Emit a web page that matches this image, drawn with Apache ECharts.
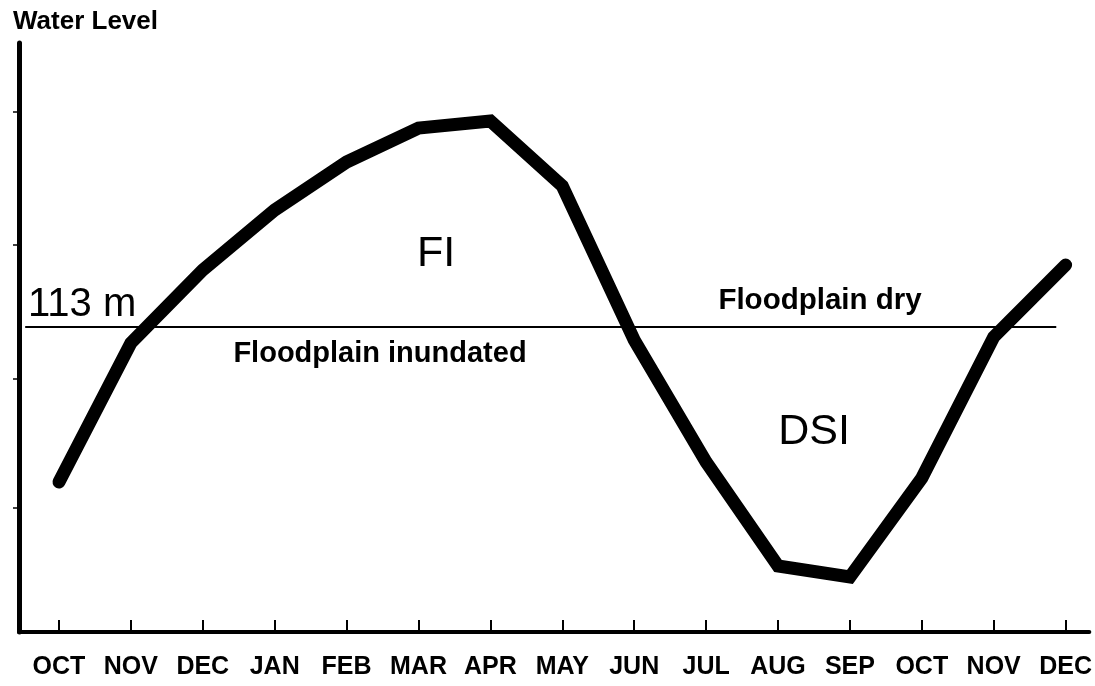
<!DOCTYPE html>
<html>
<head>
<meta charset="utf-8">
<style>
  html, body { margin: 0; padding: 0; background: #fff; }
  #chart { width: 1095px; height: 686px; }
</style>
<script src="https://cdn.jsdelivr.net/npm/echarts@6/dist/echarts.min.js"></script>
</head>
<body>
<div id="chart"></div>
<script>
// months along the bottom, index 0..14
const months = ["OCT", "NOV", "DEC", "JAN", "FEB", "MAR", "APR", "MAY",
  "JUN", "JUL", "AUG", "SEP", "OCT", "NOV", "DEC"];

// water level (m)
const waterLevel = [109.9, 112.68, 114.14, 115.34, 116.3, 116.98, 117.12, 115.82,
  112.74, 110.3, 108.22, 108.0, 109.98, 112.8, 114.24];

// unlabeled y ticks
const yTicks = [109.38, 111.96, 114.64, 117.3];

const floodLevel = 113;
const font = "'Liberation Sans', Arial, sans-serif";

const chart = echarts.init(document.getElementById("chart"));

const option = {
  animation: false,
  backgroundColor: "#fff",
  grid: { left: 19, right: 5, top: 43, bottom: 54 },
  xAxis: {
    type: "value",
    min: -0.556,
    max: 14.33,
    splitLine: { show: false },
    axisLine: { show: true, onZero: false, lineStyle: { color: "#000", width: 4 } },
    axisTick: {
      show: true,
      inside: true,
      length: 12,
      lineStyle: { color: "#000", width: 2 },
      customValues: months.map((m, i) => i),
    },
    axisLabel: {
      customValues: months.map((m, i) => i),
      formatter: (v) => months[Math.round(v)],
      color: "#000",
      fontFamily: font,
      fontWeight: "bold",
      fontSize: 25,
      margin: 23,
    },
  },
  yAxis: {
    type: "value",
    min: 106.9,
    max: 118.68,
    splitLine: { show: false },
    axisLine: { show: true, onZero: false, lineStyle: { color: "#000", width: 5 } },
    axisTick: {
      show: true,
      length: 6,
      lineStyle: { color: "#000", width: 1.5 },
      customValues: yTicks,
    },
    axisLabel: { show: false },
  },
  series: [
    {
      type: "line",
      data: waterLevel.map((v, i) => [i, v]),
      showSymbol: false,
      lineStyle: { color: "#000", width: 13, cap: "round", join: "miter" },
      markLine: {
        silent: true,
        symbol: "none",
        label: { show: false },
        lineStyle: { color: "#000", width: 2, type: "solid" },
        data: [[{ coord: [-0.47, floodLevel] }, { coord: [13.87, floodLevel] }]],
      },
      z: 3,
    },
  ],
  graphic: [
    { type: "text", left: 13, top: 9,
      style: { text: "Water Level", font: "bold 26px " + font, fill: "#000" } },
    { type: "text", x: 28, y: 305,
      style: { text: "113 m", font: "40px " + font, fill: "#000", textVerticalAlign: "middle" } },
    { type: "text", x: 820, y: 301,
      style: { text: "Floodplain dry", font: "bold 29.5px " + font, fill: "#000",
        textAlign: "center", textVerticalAlign: "middle" } },
    { type: "text", x: 380, y: 354,
      style: { text: "Floodplain inundated", font: "bold 29px " + font, fill: "#000",
        textAlign: "center", textVerticalAlign: "middle" } },
    { type: "text", x: 436, y: 254,
      style: { text: "FI", font: "43px " + font, fill: "#000",
        textAlign: "center", textVerticalAlign: "middle" } },
    { type: "text", x: 814, y: 432,
      style: { text: "DSI", font: "43px " + font, fill: "#000",
        textAlign: "center", textVerticalAlign: "middle" } },
  ],
};

chart.setOption(option);
</script>
</body>
</html>
